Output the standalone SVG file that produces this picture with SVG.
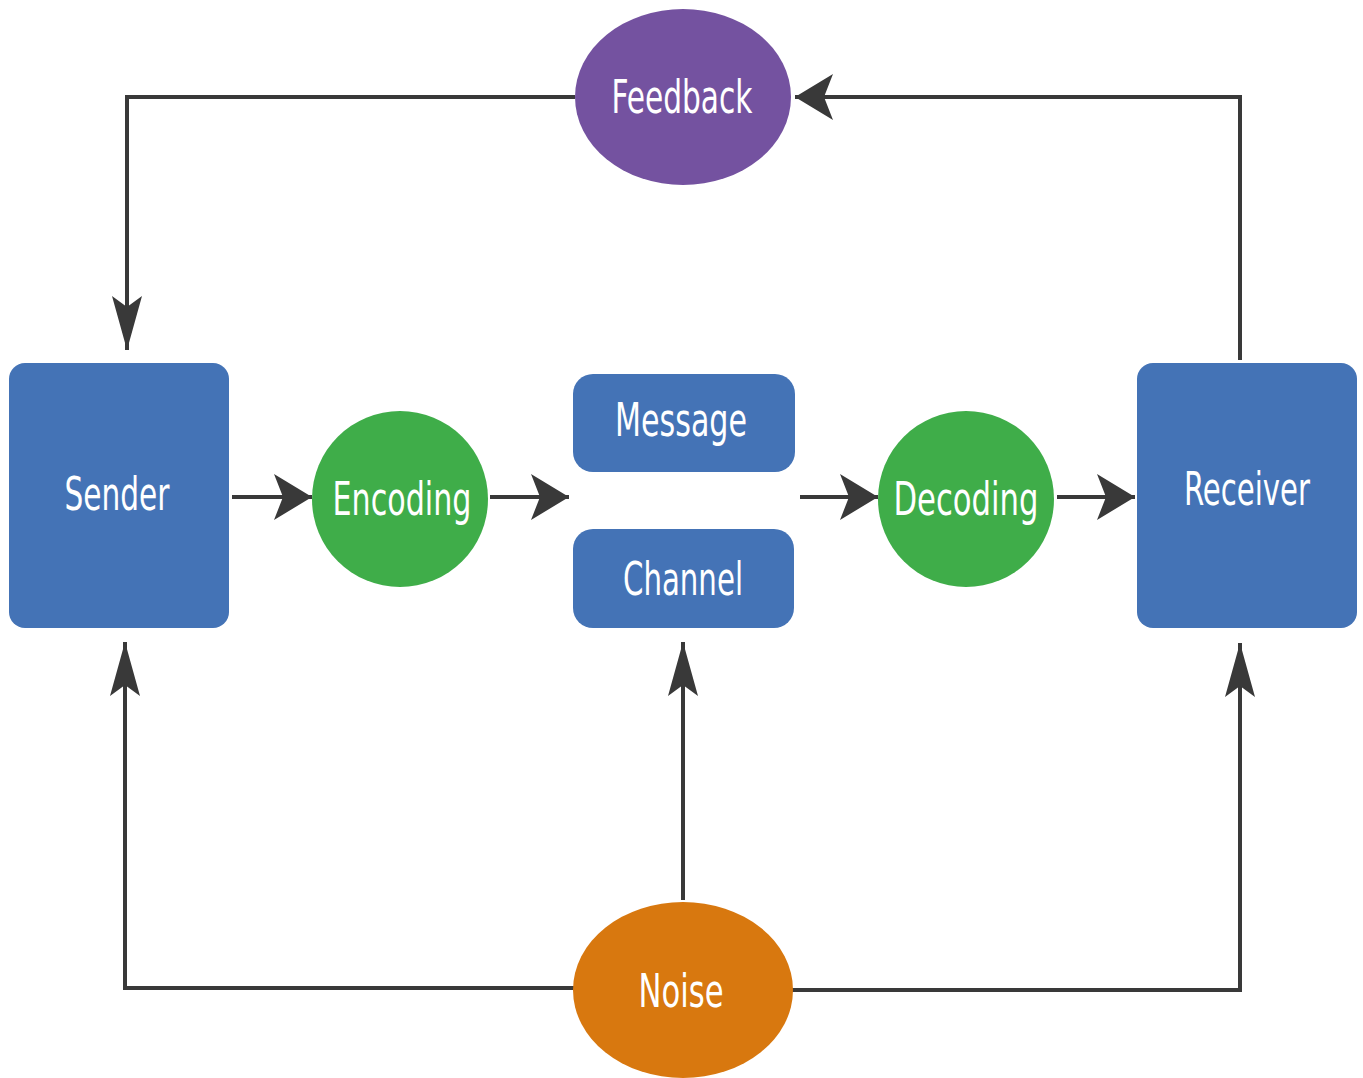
<svg xmlns="http://www.w3.org/2000/svg" width="1363" height="1078" viewBox="0 0 1363 1078">
<style>
.box{fill:#4473b6}
.lbl{fill:#ffffff;font-family:"DejaVu Sans Condensed","Liberation Sans",sans-serif;font-size:47px;text-anchor:middle}
.con{fill:none;stroke:#393939;stroke-width:4}
</style>
<defs>
<marker id="ah" markerUnits="userSpaceOnUse" markerWidth="44" markerHeight="52" viewBox="-42 -26 44 52" refX="0" refY="0" orient="auto">
<path d="M0,0 L-38,-23 L-29,0 L-38,23 Z" fill="#393939"/>
</marker>
<marker id="av" markerUnits="userSpaceOnUse" markerWidth="60" markerHeight="36" viewBox="-58 -18 60 36" refX="0" refY="0" orient="auto">
<path d="M0,0 L-54,-15 L-43,0 L-54,15 Z" fill="#393939"/>
</marker>
</defs>
<rect width="1363" height="1078" fill="#ffffff"/>
<g id="connectors">
<polyline class="con" points="575,97 127,97 127,350" marker-end="url(#av)"/>
<polyline class="con" points="1240,360 1240,97 795,97" marker-end="url(#ah)"/>
<line class="con" x1="232" y1="497" x2="312" y2="497" marker-end="url(#ah)"/>
<line class="con" x1="490" y1="497" x2="569" y2="497" marker-end="url(#ah)"/>
<line class="con" x1="800" y1="497" x2="878" y2="497" marker-end="url(#ah)"/>
<line class="con" x1="1057" y1="497" x2="1135" y2="497" marker-end="url(#ah)"/>
<polyline class="con" points="575,988 125,988 125,642" marker-end="url(#av)"/>
<line class="con" x1="683" y1="900" x2="683" y2="642" marker-end="url(#av)"/>
<polyline class="con" points="791,990 1240,990 1240,643" marker-end="url(#av)"/>
</g>
<g id="feedback">
<ellipse cx="683" cy="97" rx="108" ry="88" fill="#7452a0"/>
<text class="lbl" x="682" y="113" textLength="141" lengthAdjust="spacingAndGlyphs">Feedback</text>
</g>
<g id="sender">
<rect class="box" x="9" y="363" width="220" height="265" rx="16"/>
<text class="lbl" x="117" y="510" textLength="105" lengthAdjust="spacingAndGlyphs">Sender</text>
</g>
<g id="encoding">
<circle cx="400" cy="499" r="88" fill="#3fad49"/>
<text class="lbl" x="402" y="515" textLength="139" lengthAdjust="spacingAndGlyphs">Encoding</text>
</g>
<g id="message">
<rect class="box" x="573" y="374" width="222" height="98" rx="20"/>
<text class="lbl" x="681" y="436" textLength="132" lengthAdjust="spacingAndGlyphs">Message</text>
</g>
<g id="channel">
<rect class="box" x="573" y="529" width="221" height="99" rx="20"/>
<text class="lbl" x="683" y="595" textLength="120" lengthAdjust="spacingAndGlyphs">Channel</text>
</g>
<g id="decoding">
<circle cx="966" cy="499" r="88" fill="#3fad49"/>
<text class="lbl" x="966" y="515" textLength="145" lengthAdjust="spacingAndGlyphs">Decoding</text>
</g>
<g id="receiver">
<rect class="box" x="1137" y="363" width="220" height="265" rx="16"/>
<text class="lbl" x="1247" y="505" textLength="126" lengthAdjust="spacingAndGlyphs">Receiver</text>
</g>
<g id="noise">
<ellipse cx="683" cy="990" rx="110" ry="88" fill="#d8780f"/>
<text class="lbl" x="681" y="1007" textLength="85" lengthAdjust="spacingAndGlyphs">Noise</text>
</g>
</svg>
